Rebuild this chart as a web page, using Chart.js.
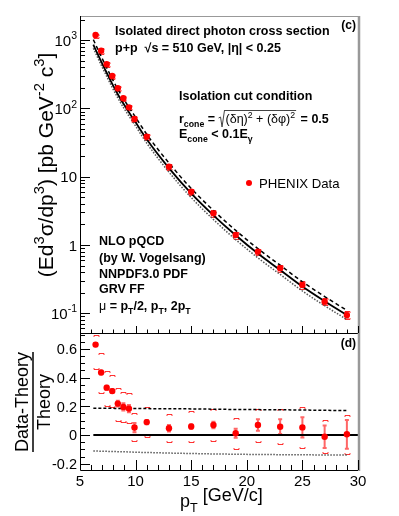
<!DOCTYPE html>
<html>
<head>
<meta charset="utf-8">
<script src="https://cdn.jsdelivr.net/npm/chart.js@4.4.0/dist/chart.umd.min.js"></script>
<style>
  body { margin: 0; background: #fff; }
  #wrap { position: relative; width: 399px; height: 516px; }
  canvas { position: absolute; left: 0; top: 0; }
</style>
</head>
<body>
<div id="wrap">
  <canvas id="crossSection" width="399" height="516"></canvas>
  <canvas id="ratioPanel" width="399" height="516"></canvas>
</div>
<script>
// PHENIX data points
const pT = [6.4, 6.9, 7.4, 7.9, 8.4, 8.9, 9.4, 9.9, 11, 13, 15, 17, 19, 21, 23, 25, 27, 29];
const crossSection = [1194, 703, 444, 299, 198, 141, 104, 70, 38.6, 14.0, 6.04, 2.91, 1.40, 0.80, 0.456, 0.259, 0.148, 0.094];
const ratio = [0.63, 0.436, 0.33, 0.306, 0.219, 0.196, 0.184, 0.052, 0.09, 0.047, 0.059, 0.07, 0.012, 0.07, 0.058, 0.053, -0.012, 0.005];
const ratioStat = [0.012, 0.012, 0.014, 0.014, 0.02, 0.025, 0.025, 0.032, 0.015, 0.023, 0.015, 0.023, 0.031, 0.04, 0.051, 0.07, 0.079, 0.10];
const ratioSysUp = [0.697, 0.574, 0.447, 0.418, 0.33, 0.302, 0.295, 0.155, 0.193, 0.146, 0.167, 0.181, 0.12, 0.18, 0.18, 0.197, 0.105, 0.14];
const ratioSysLow = [0.46, 0.29, 0.202, 0.195, 0.10, 0.09, 0.082, -0.042, -0.016, -0.047, -0.047, -0.04, -0.10, -0.047, -0.065, -0.088, -0.128, -0.132];

// NLO pQCD curves (mu = pT, pT/2, 2pT)
const theoryPt = [6.2, 6.4, 6.9, 7.4, 7.9, 8.4, 8.9, 9.4, 9.9, 11, 13, 15, 17, 19, 21, 23, 25, 27, 29];
const theory = [860, 731, 490, 334, 229, 162, 118, 88, 66.5, 35.4, 13.4, 5.70, 2.72, 1.39, 0.75, 0.43, 0.246, 0.150, 0.094];
const theoryUp = [1020, 867, 581, 396, 272, 192, 140, 104, 78.8, 41.9, 15.9, 6.74, 3.21, 1.64, 0.883, 0.506, 0.289, 0.176, 0.110];
const theoryLow = [764, 649, 435, 296, 203, 143, 104, 77.6, 58.5, 31.1, 11.7, 4.96, 2.36, 1.20, 0.648, 0.371, 0.212, 0.129, 0.081];
const theoryUpRatio = [0.186, 0.186, 0.186, 0.186, 0.186, 0.185, 0.185, 0.185, 0.185, 0.184, 0.183, 0.182, 0.180, 0.178, 0.177, 0.176, 0.174, 0.172, 0.170];
const theoryLowRatio = [-0.112, -0.112, -0.113, -0.114, -0.115, -0.116, -0.117, -0.118, -0.120, -0.122, -0.126, -0.129, -0.132, -0.134, -0.136, -0.137, -0.138, -0.139, -0.139];
const zeroLineX = [6.2, 30];

// axis ticks
const xTickLabels = [5, 10, 15, 20, 25, 30];
const logTickValues = [0.1, 1, 10, 100, 1000];
const logTickLabels = [['10', '-1'], ['1', ''], ['10', ''], ['10', '2'], ['10', '3']];
const ratioTickValues = [-0.2, 0, 0.2, 0.4, 0.6];
const ratioTickLabels = ['-0.2', '0', '0.2', '0.4', '0.6'];

const FONT = '"Liberation Sans", Arial, Helvetica, sans-serif';
const RED = 'rgb(255, 0, 0)';

function setFont(ctx, size, bold) {
  ctx.font = (bold ? 'bold ' : '') + size + 'px ' + FONT;
}

// draws [text, kind] pieces; kind '' / 'sup' / 'sub'. y is the baseline
function rich(ctx, x, y, parts, size, bold, align) {
  let total = 0;
  parts.forEach(p => {
    setFont(ctx, p[1] ? size * 0.7 : size, p[2] === undefined ? bold : p[2]);
    total += ctx.measureText(p[0]).width;
  });
  let cx = align === 'right' ? x - total : align === 'center' ? x - total / 2 : x;
  ctx.textAlign = 'left';
  ctx.textBaseline = 'alphabetic';
  parts.forEach(p => {
    setFont(ctx, p[1] ? size * 0.7 : size, p[2] === undefined ? bold : p[2]);
    const dy = p[1] === 'sup' ? -size * 0.42 : p[1] === 'sub' ? size * 0.28 : 0;
    ctx.fillText(p[0], cx, y + dy);
    cx += ctx.measureText(p[0]).width;
  });
  return total;
}

function xTicks(ctx, chart, y, majorLen, minorLen) {
  const xs = chart.scales.x;
  ctx.strokeStyle = '#000';
  ctx.lineWidth = 1;
  for (let v = 5; v <= 30; v++) {
    const px = Math.round(xs.getPixelForValue(v)) + 0.5;
    const len = v % 5 === 0 ? majorLen : minorLen;
    ctx.beginPath(); ctx.moveTo(px, y); ctx.lineTo(px, y - len); ctx.stroke();
  }
}

// little "[ ]" end caps of the systematic error
function sysBracket(ctx, x, y, up) {
  x = Math.round(x) + 0.5;
  y = Math.round(y) + 0.5;
  const h = up ? 1.5 : -1.5;
  ctx.beginPath();
  ctx.moveTo(x - 2.5, y + h); ctx.lineTo(x - 2.5, y); ctx.lineTo(x + 2.5, y); ctx.lineTo(x + 2.5, y + h);
  ctx.stroke();
}

function statBar(ctx, x, y1, y2) {
  ctx.beginPath();
  ctx.moveTo(x, y1); ctx.lineTo(x, y2);
  ctx.moveTo(x - 2, y1); ctx.lineTo(x + 2, y1);
  ctx.moveTo(x - 2, y2); ctx.lineTo(x + 2, y2);
  ctx.stroke();
}

const topPanel = {
  id: 'topPanel',
  beforeDatasetsDraw(chart) {
    const ctx = chart.ctx, xs = chart.scales.x, ys = chart.scales.y;
    ctx.save();
    pT.forEach((v, i) => {
      const px = xs.getPixelForValue(v);
      const rel = crossSection[i] / (1 + ratio[i]);
      ctx.strokeStyle = 'rgba(255, 0, 0, 0.8)';
      ctx.lineWidth = 1;
      sysBracket(ctx, px, ys.getPixelForValue(rel * (1 + ratioSysUp[i])), true);
      sysBracket(ctx, px, ys.getPixelForValue(rel * (1 + ratioSysLow[i])), false);
      ctx.strokeStyle = 'rgba(255, 0, 0, 0.6)';
      ctx.lineWidth = 2;
      statBar(ctx, px, ys.getPixelForValue(rel * (1 + ratio[i] + ratioStat[i])),
        ys.getPixelForValue(rel * (1 + ratio[i] - ratioStat[i])));
    });
    ctx.restore();
  },
  afterDraw(chart) {
    const ctx = chart.ctx, a = chart.chartArea, ys = chart.scales.y;
    ctx.save();
    // frame
    ctx.strokeStyle = '#999';
    ctx.lineWidth = 1;
    ctx.beginPath(); ctx.moveTo(a.left, a.top + 0.5); ctx.lineTo(a.right, a.top + 0.5); ctx.stroke();
    ctx.lineWidth = 2.5;
    ctx.beginPath(); ctx.moveTo(a.right + 1, a.top); ctx.lineTo(a.right + 1, a.bottom); ctx.stroke();
    ctx.strokeStyle = '#000';
    ctx.lineWidth = 1;
    ctx.beginPath();
    ctx.moveTo(a.left + 0.5, a.top); ctx.lineTo(a.left + 0.5, a.bottom + 0.5); ctx.lineTo(a.right, a.bottom + 0.5);
    ctx.stroke();
    // log ticks
    for (let e = -2; e <= 3; e++) {
      for (let m = 1; m <= 9; m++) {
        const v = m * Math.pow(10, e);
        if (v < ys.min || v > ys.max) continue;
        const py = Math.round(ys.getPixelForValue(v)) + 0.5;
        ctx.beginPath(); ctx.moveTo(a.left, py); ctx.lineTo(a.left + (m === 1 ? 10 : 5), py); ctx.stroke();
      }
    }
    xTicks(ctx, chart, a.bottom, 7, 3.5);
    ctx.fillStyle = '#000';
    logTickValues.forEach((v, i) => {
      const py = ys.getPixelForValue(v);
      const lab = logTickLabels[i];
      const parts = lab[1] ? [[lab[0], ''], [lab[1], 'sup']] : [[lab[0], '']];
      rich(ctx, 77, py + 5.5, parts, 15, false, 'right');
    });
    // y title
    ctx.save();
    ctx.translate(53, 165);
    ctx.rotate(-Math.PI / 2);
    rich(ctx, 0, 0, [['(Ed', ''], ['3', 'sup'], ['\u03c3/dp', ''], ['3', 'sup'], [') [pb GeV', ''], ['-2', 'sup'], [' c', ''], ['3', 'sup'], [']', '']], 21, false, 'center');
    ctx.restore();
    // annotations
    rich(ctx, 115, 35, [['Isolated direct photon cross section', '']], 12.5, true);
    rich(ctx, 115, 52, [['p+p  \u221as = 510 GeV, |\u03b7| < 0.25', '']], 12.5, true);
    rich(ctx, 356, 29, [['(c)', '']], 12, true, 'right');
    rich(ctx, 179, 100, [['Isolation cut condition', '']], 12.5, true);
    let w = rich(ctx, 179, 123, [['r', ''], ['cone', 'sub'], [' = ', '']], 12.5, true);
    let rx = 179 + w;
    ctx.strokeStyle = '#444';
    ctx.lineWidth = 1;
    ctx.beginPath();
    ctx.moveTo(rx, 118); ctx.lineTo(rx + 2, 117); ctx.lineTo(rx + 3.5, 127); ctx.lineTo(rx + 6, 110);
    ctx.stroke();
    w = rich(ctx, rx + 7, 123, [['(\u03b4\u03b7)', ''], ['2', 'sup'], [' + (\u03b4\u03c6)', ''], ['2', 'sup']], 12.5, false);
    ctx.beginPath(); ctx.moveTo(rx + 6, 110.5); ctx.lineTo(rx + 8 + w, 110.5); ctx.stroke();
    rich(ctx, rx + 9 + w, 123, [[' = 0.5', '']], 12.5, true);
    rich(ctx, 179, 138, [['E', ''], ['cone', 'sub'], [' < 0.1E', ''], ['\u03b3', 'sub']], 12.5, true);
    // legend
    ctx.fillStyle = RED;
    ctx.beginPath(); ctx.arc(249, 183, 3, 0, Math.PI * 2); ctx.fill();
    ctx.fillStyle = '#000';
    rich(ctx, 259, 188, [['PHENIX Data', '']], 13.2, false);
    rich(ctx, 99, 245, [['NLO pQCD', '']], 12.5, true);
    rich(ctx, 99, 262, [['(by W. Vogelsang)', '']], 12.5, true);
    rich(ctx, 99, 277.5, [['NNPDF3.0 PDF', '']], 12.5, true);
    rich(ctx, 99, 293, [['GRV FF', '']], 12.5, true);
    rich(ctx, 99, 310, [['\u03bc', '', false], [' = p', ''], ['T', 'sub'], ['/2, p', ''], ['T', 'sub'], [', 2p', ''], ['T', 'sub']], 12.5, true);
    ctx.restore();
  }
};

const ratioDecor = {
  id: 'ratioDecor',
  beforeDatasetsDraw(chart) {
    const ctx = chart.ctx, xs = chart.scales.x, ys = chart.scales.y;
    ctx.save();
    pT.forEach((v, i) => {
      const px = xs.getPixelForValue(v);
      ctx.strokeStyle = 'rgba(255, 0, 0, 0.8)';
      ctx.lineWidth = 1;
      sysBracket(ctx, px, ys.getPixelForValue(ratioSysUp[i]), true);
      sysBracket(ctx, px, ys.getPixelForValue(ratioSysLow[i]), false);
      ctx.strokeStyle = 'rgba(255, 0, 0, 0.6)';
      ctx.lineWidth = 2;
      statBar(ctx, px, ys.getPixelForValue(ratio[i] + ratioStat[i]), ys.getPixelForValue(ratio[i] - ratioStat[i]));
    });
    ctx.restore();
  },
  afterDraw(chart) {
    const ctx = chart.ctx, a = chart.chartArea, xs = chart.scales.x, ys = chart.scales.y;
    ctx.save();
    ctx.strokeStyle = '#999';
    ctx.lineWidth = 2.5;
    ctx.beginPath(); ctx.moveTo(a.right + 1, a.top); ctx.lineTo(a.right + 1, a.bottom + 1); ctx.stroke();
    ctx.strokeStyle = '#000';
    ctx.lineWidth = 1;
    ctx.beginPath();
    ctx.moveTo(a.left + 0.5, a.top); ctx.lineTo(a.left + 0.5, a.bottom + 0.5); ctx.lineTo(a.right, a.bottom + 0.5);
    ctx.stroke();
    for (let k = -5; k <= 14; k++) {
      const v = k * 0.05;
      if (v < ys.min || v > ys.max) continue;
      const py = Math.round(ys.getPixelForValue(v)) + 0.5;
      ctx.beginPath(); ctx.moveTo(a.left, py); ctx.lineTo(a.left + (k % 4 === 0 ? 10 : 5), py); ctx.stroke();
    }
    xTicks(ctx, chart, a.bottom, 10, 5);
    ctx.fillStyle = '#000';
    ratioTickValues.forEach((v, i) => {
      rich(ctx, 77, ys.getPixelForValue(v) + 5.2, [[ratioTickLabels[i], '']], 14.5, false, 'right');
    });
    xTickLabels.forEach(v => {
      rich(ctx, xs.getPixelForValue(v), 486, [[String(v), '']], 15, false, 'center');
    });
    rich(ctx, 356, 347, [['(d)', '']], 12, true, 'right');
    // x title
    let w = rich(ctx, 180, 507, [['p', ''], ['T', 'sub']], 18, false);
    rich(ctx, 180 + w, 501, [[' [GeV/c]', '']], 18, false);
    // y title as fraction
    ctx.save();
    ctx.translate(28, 402);
    ctx.rotate(-Math.PI / 2);
    rich(ctx, 0, 0, [['Data-Theory', '']], 18, false, 'center');
    rich(ctx, 0, 22, [['Theory', '']], 18, false, 'center');
    ctx.lineWidth = 1.5;
    ctx.beginPath(); ctx.moveTo(-50, 5); ctx.lineTo(50, 5); ctx.stroke();
    ctx.restore();
    ctx.restore();
  }
};

function curve(xs, ys, style) {
  return Object.assign({
    data: xs.map((x, i) => ({ x: x, y: ys[i] })),
    showLine: true,
    pointRadius: 0,
    borderColor: '#000',
    borderWidth: 1.5,
    cubicInterpolationMode: 'monotone',
    order: 2
  }, style);
}

function dataPoints(ys) {
  return {
    data: pT.map((x, i) => ({ x: x, y: ys[i] })),
    showLine: false,
    pointRadius: 3.2,
    pointBackgroundColor: RED,
    pointBorderWidth: 0,
    order: 0
  };
}

const baseOptions = (padding, yScale) => ({
  responsive: false,
  animation: false,
  devicePixelRatio: 1,
  layout: { padding: padding },
  plugins: { legend: { display: false }, tooltip: { enabled: false } },
  scales: {
    x: { type: 'linear', min: 5, max: 30, display: false },
    y: yScale
  }
});

new Chart(document.getElementById('crossSection'), {
  type: 'scatter',
  data: {
    datasets: [
      dataPoints(crossSection),
      curve(theoryPt, theory, { borderWidth: 1.8 }),
      curve(theoryPt, theoryUp, { borderDash: [4, 3] }),
      curve(theoryPt, theoryLow, { borderDash: [1.5, 1.5], borderColor: '#555' })
    ]
  },
  options: baseOptions({ left: 80, top: 16, right: 41, bottom: 183 },
    { type: 'logarithmic', min: 0.0514, max: 2265, display: false }),
  plugins: [topPanel]
});

new Chart(document.getElementById('ratioPanel'), {
  type: 'scatter',
  data: {
    datasets: [
      dataPoints(ratio),
      curve(zeroLineX, [0, 0], { borderWidth: 1.8 }),
      curve(theoryPt, theoryUpRatio, { borderDash: [3, 2] }),
      curve(theoryPt, theoryLowRatio, { borderDash: [1.5, 1.5], borderColor: '#555' })
    ]
  },
  options: baseOptions({ left: 80, top: 333, right: 41, bottom: 46 },
    { type: 'linear', min: -0.244, max: 0.711, display: false }),
  plugins: [ratioDecor]
});
</script>
</body>
</html>
